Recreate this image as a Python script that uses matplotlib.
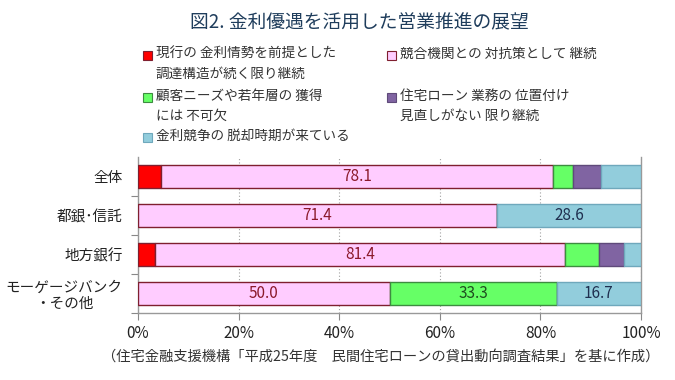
import numpy as np
import matplotlib
matplotlib.use('Agg')
from matplotlib import pyplot as plt
from matplotlib.patches import Rectangle

plt.rcParams['font.family'] = ['Noto Sans CJK JP', 'DejaVu Sans']

categories = ['全体', '都銀･信託', '地方銀行', 'モーゲージバンク\n・その他']
series_names = ['現行の 金利情勢を前提とした\n調達構造が続く限り継続',
                '競合機関との 対抗策として 継続',
                '顧客ニーズや若年層の 獲得\nには 不可欠',
                '住宅ローン 業務の 位置付け\n見直しがない 限り継続',
                '金利競争の 脱却時期が来ている']
values = [
    [4.5, 0.0, 3.4, 0.0],
    [78.1, 71.4, 81.4, 50.0],
    [3.8, 0.0, 6.8, 33.3],
    [5.6, 0.0, 5.1, 0.0],
    [8.0, 28.6, 3.3, 16.7],
]
xticks = [0, 20, 40, 60, 80, 100]
title = '図2. 金利優遇を活用した営業推進の展望'
note = '（住宅金融支援機構「平成25年度　民間住宅ローンの貸出動向調査結果」を基に作成）'

colors = ['#FF0000', '#FFCCFF', '#66FF66', '#8064A2', '#92CDDC']
edges = ['#7F1F2F', '#7F1F2F', '#3D8C40', '#5F4A7A', '#6FA8BC']
txtcol = ['#7F1F2F', '#8B1A2B', '#1E4D1E', '#2A2040', '#1F2F4F']

W, H = 675, 380
fig = plt.figure(figsize=(W / 100, H / 100), dpi=100)
ax = fig.add_axes([138 / W, 1 - 313 / H, 503 / W, 156 / H])

y = np.arange(len(categories))
left = np.zeros(len(categories))
for i, vals in enumerate(values):
    vals = np.array(vals)
    ax.barh(y, vals, left=left, height=0.58, color=colors[i],
            edgecolor=edges[i], linewidth=1.0, zorder=3)
    for j, v in enumerate(vals):
        if v >= 10:
            ax.text(left[j] + v / 2, y[j], f'{v:.1f}', ha='center', va='center',
                    fontsize=11, color=txtcol[i], zorder=4)
    left += vals

ax.set_xlim(0, 100)
ax.set_ylim(len(categories) - 0.5, -0.5)
ax.set_xticks(xticks)
ax.set_xticklabels([f'{t}%' for t in xticks], fontsize=11, color='#222222')
ax.tick_params(axis='x', direction='out', length=5, color='#888888', pad=4)
ax.set_yticks(np.arange(len(categories)) + 0.5)
ax.set_yticklabels([])
ax.tick_params(axis='y', direction='out', length=5, color='#888888')
ax.set_yticks(y, minor=True)
ax.set_yticklabels(categories, minor=True, fontsize=10.5, color='#222222',
                   multialignment='center')
ax.tick_params(axis='y', which='minor', length=0, pad=11)
ax.xaxis.grid(True, linestyle=(0, (1, 2)), color='#A0A0A0', linewidth=0.8, zorder=0)
ax.spines['top'].set_visible(False)
for s in ['left', 'bottom', 'right']:
    ax.spines[s].set_color('#999999')
    ax.spines[s].set_linewidth(1.0)

fig.text(359 / W, 1 - 22 / H, title, ha='center', va='center', fontsize=13.5,
         color='#1F3D5C')

legend_pos = [(143, 55), (387, 55), (143, 97), (387, 97), (143, 137)]
for i, name in enumerate(series_names):
    px, py = legend_pos[i]
    fig.patches.append(Rectangle((px / W, 1 - (py + 4.5) / H), 9 / W, 9 / H,
                                 transform=fig.transFigure, facecolor=colors[i],
                                 edgecolor=edges[i], linewidth=0.8))
    fig.text((px + 13) / W, 1 - (py - 8) / H, name, ha='left', va='top',
             fontsize=9.8, color='#333333', linespacing=1.5)

fig.text(381 / W, 1 - 357 / H, note, ha='center', va='center', fontsize=10.3,
         color='#333333')

fig.savefig('out.png', dpi=100)
